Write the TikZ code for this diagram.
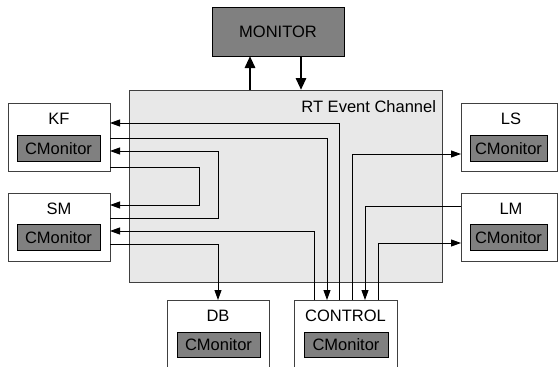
\documentclass[tikz,border=0pt]{standalone}
\usepackage{fontspec}
\setmainfont{Liberation Sans}
\usetikzlibrary{arrows.meta}
\definecolor{chfill}{HTML}{E8E8E8}
\definecolor{boxgray}{HTML}{808080}
\definecolor{edgegray}{HTML}{404040}
\begin{document}
\begin{tikzpicture}[x=1pt,y=-1pt,
  every node/.style={font=\fontsize{16.5}{19}\selectfont, inner sep=0pt, outer sep=0pt},
  outerbox/.style={draw=edgegray, fill=white, line width=0.9pt, anchor=north west},
  cmon/.style={draw=black, fill=boxgray, line width=0.9pt, anchor=north west, text height=12pt, text depth=0pt},
  titletext/.style={anchor=base},
  conn/.style={draw=black, line width=0.9pt},
  arr/.style={conn, -{Triangle[length=10pt,width=7pt]}},
  bigarr/.style={draw=black, line width=2.8pt, -{Triangle[length=12pt,width=10pt]}}]
\clip (0,0) rectangle (558,367);
\fill[white] (0,0) rectangle (558,367);

% channel and monitor
\node[draw=edgegray, fill=chfill, line width=0.9pt, anchor=north west, minimum width=313pt, minimum height=192pt] (CH) at (129,90) {};
\node[anchor=base east] (CHt) at (436,112.7) {RT Event Channel};
\node[draw=black, fill=boxgray, line width=0.9pt, anchor=north west, minimum width=132pt, minimum height=49pt] (MON) at (212,7) {};
\node[text height=12pt, text depth=0pt] (MONt) at (MON.center) {MONITOR};

% component boxes
\node[outerbox, minimum width=102pt, minimum height=68pt] (KF) at (8,103) {};
\node[titletext] (KFt) at (59,124) {KF};
\node[cmon, minimum width=83pt, minimum height=26pt] (KFc) at (17,135) {CMonitor};

\node[outerbox, minimum width=102pt, minimum height=68pt] (SM) at (8,193) {};
\node[titletext] (SMt) at (59,214) {SM};
\node[cmon, minimum width=83pt, minimum height=26pt] (SMc) at (17,224) {CMonitor};

\node[outerbox, minimum width=96pt, minimum height=68pt] (LS) at (461,103) {};
\node[titletext] (LSt) at (511,124) {LS};
\node[cmon, minimum width=77pt, minimum height=26pt] (LSc) at (470,135) {CMonitor};

\node[outerbox, minimum width=96pt, minimum height=68pt] (LM) at (461,193) {};
\node[titletext] (LMt) at (511,214) {LM};
\node[cmon, minimum width=77pt, minimum height=26pt] (LMc) at (470,224) {CMonitor};

\node[outerbox, minimum width=102pt, minimum height=80pt] (DB) at (167,300) {};
\node[titletext] (DBt) at (218,321) {DB};
\node[cmon, minimum width=83pt, minimum height=25pt] (DBc) at (177,332) {CMonitor};

\node[outerbox, minimum width=103pt, minimum height=80pt] (CTRL) at (294,300) {};
\node[titletext] (CTRLt) at (345.5,321) {CONTROL};
\node[cmon, minimum width=84pt, minimum height=25pt] (CTRLc) at (304,332) {CMonitor};

% monitor arrows
\draw[bigarr] (CH.north -| 250,0) -- (MON.south -| 250,0);
\draw[bigarr] (MON.south -| 301,0) -- (CH.north -| 301,0);

% KF / SM connectors
\draw[arr] (CTRL.north -| 339,0) |- (KF.east |- 0,123);
\draw[arr] (KF.east |- 0,138) -| (CTRL.north -| 327,0);
\draw[arr] (SM.east |- 0,218) -- (218,218) |- (KF.east |- 0,151);
\draw[arr] (KF.east |- 0,167) -- (199,167) |- (SM.east |- 0,205);
\draw[arr] (CTRL.north -| 314,0) |- (SM.east |- 0,231);
\draw[arr] (SM.east |- 0,244) -| (DB.north);

% LS / LM connectors
\draw[arr] (CTRL.north -| 352,0) |- (LS.west |- 0,154);
\draw[arr] (LM.west |- 0,206) -| (CTRL.north -| 365,0);
\draw[arr] (CTRL.north -| 378,0) |- (LM.west |- 0,243);
\end{tikzpicture}
\end{document}
